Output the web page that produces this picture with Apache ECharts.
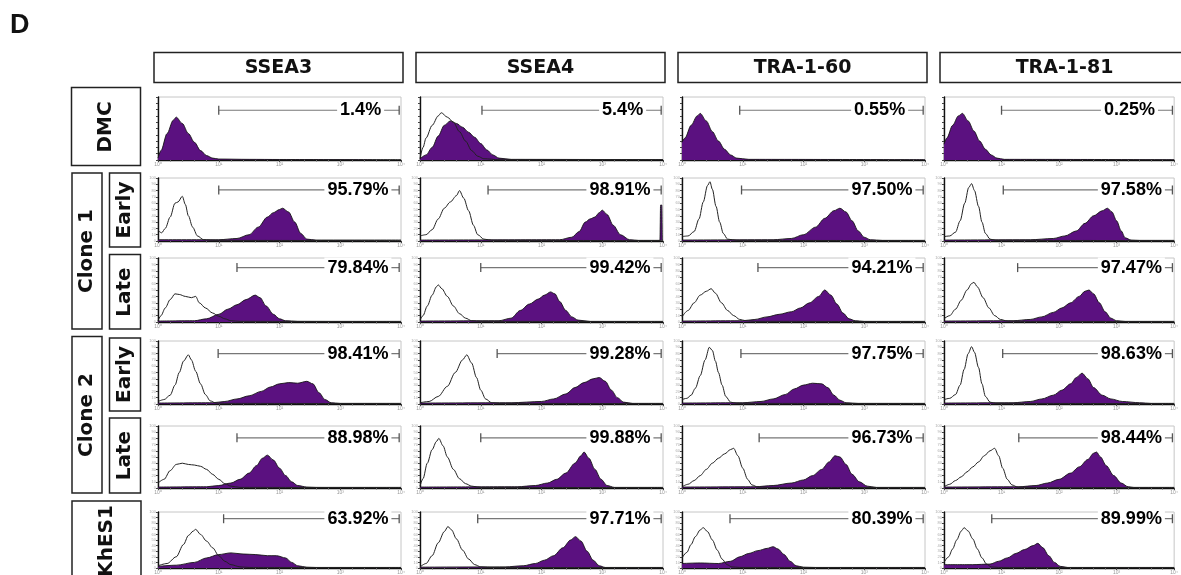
<!DOCTYPE html>
<html>
<head>
<meta charset="utf-8">
<script src="https://cdn.jsdelivr.net/npm/echarts@6/dist/echarts.min.js"></script>
<style>
  html, body { margin: 0; padding: 0; background: #fff; }
  #chart { width: 1181px; height: 575px; }
</style>
</head>
<body>
<div id="chart"></div>
<script>
// columns = markers, rows = samples (DMC, clone1 early/late, clone2 early/late, KhES1)
var markers = ["SSEA3", "SSEA4", "TRA-1-60", "TRA-1-81"];
var decadeTicks = ["10\u2070", "10\u00b9", "10\u00b2", "10\u00b3", "10\u2074"];

// percentage of positive cells
var ssea3Pct = ["1.4%", "95.79%", "79.84%", "98.41%", "88.98%", "63.92%"];
var ssea4Pct = ["5.4%", "98.91%", "99.42%", "99.28%", "99.88%", "97.71%"];
var tra160Pct = ["0.55%", "97.50%", "94.21%", "97.75%", "96.73%", "80.39%"];
var tra181Pct = ["0.25%", "97.58%", "97.47%", "98.63%", "98.44%", "89.99%"];

// gate start (log decades)
var ssea3Gate = [1.0, 1.0, 1.3, 0.99, 1.3, 1.08];
var ssea4Gate = [1.02, 1.12, 1.0, 1.27, 1.0, 0.95];
var tra160Gate = [0.95, 0.98, 1.25, 0.97, 1.27, 0.79];
var tra181Gate = [1.0, 1.03, 1.28, 1.02, 1.3, 0.83];
var gateLevel = [79, 81, 85, 80, 81, 88];

// stained histograms [log decade, % of max height]
var ssea3Fill = [
  [[0,3],[0.05,15],[0.15,42],[0.25,63],[0.3,68],[0.4,58],[0.5,42],[0.6,28],[0.7,15],[0.8,7],[0.9,3],[1.0,1.5],[1.5,1],[2,0.8],[4,0.5]],
  [[0,2],[1.0,2],[1.3,4],[1.5,10],[1.65,22],[1.8,38],[1.9,45],[2.0,50],[2.05,52],[2.15,46],[2.25,30],[2.35,12],[2.45,3],[2.6,1.5],[4,1.5]],
  [[0,1.5],[0.6,2],[0.8,5],[1.0,12],[1.15,20],[1.3,27],[1.45,35],[1.6,42],[1.68,38],[1.78,25],[1.9,12],[2.0,5],[2.1,2],[2.3,1],[4,1]],
  [[0,1.5],[0.9,2],[1.1,4],[1.3,8],[1.5,13],[1.7,20],[1.85,27],[2.0,32],[2.15,34],[2.3,33],[2.45,36],[2.55,32],[2.65,18],[2.75,7],[2.85,2],[3.0,1],[4,1]],
  [[0,1.5],[0.8,2],[1.0,4],[1.2,8],[1.35,14],[1.5,24],[1.62,36],[1.72,48],[1.8,53],[1.9,45],[2.0,32],[2.1,20],[2.2,10],[2.3,4],[2.45,1.5],[2.6,1],[4,1]],
  [[0,3],[0.3,5],[0.6,10],[0.8,18],[1.0,24],[1.2,27],[1.4,25],[1.6,24],[1.8,22],[1.95,22],[2.1,18],[2.2,10],[2.3,4],[2.45,1.5],[2.6,1],[4,1]]
];
var ssea4Fill = [
  [[0,2],[0.1,8],[0.2,20],[0.3,38],[0.4,55],[0.5,62],[0.6,58],[0.7,52],[0.8,44],[0.9,36],[1.0,26],[1.1,16],[1.2,8],[1.3,3],[1.5,1],[4,0.5]],
  [[0,1.5],[2.3,2],[2.5,6],[2.62,15],[2.72,30],[2.8,35],[2.88,38],[2.95,45],[3.0,49],[3.08,42],[3.18,25],[3.3,10],[3.45,2],[3.6,1],[3.95,1],[3.96,57],[3.98,57],[3.99,1],[4,1]],
  [[0,1.5],[1.3,2],[1.5,6],[1.65,18],[1.8,28],[1.95,36],[2.05,42],[2.15,47],[2.22,44],[2.3,32],[2.4,18],[2.5,8],[2.6,3],[2.8,1],[4,1]],
  [[0,1.5],[1.5,2],[2.0,4],[2.2,8],[2.4,16],[2.55,26],[2.7,34],[2.85,40],[2.95,42],[3.05,36],[3.15,22],[3.25,10],[3.35,3],[3.5,1],[4,1]],
  [[0,1.5],[1.6,2],[1.9,4],[2.1,8],[2.25,14],[2.4,24],[2.55,40],[2.65,52],[2.7,58],[2.78,48],[2.88,30],[2.98,14],[3.08,4],[3.2,1],[4,1]],
  [[0,1.5],[1.4,2],[1.7,4],[1.9,8],[2.05,14],[2.2,22],[2.35,36],[2.48,50],[2.56,56],[2.65,48],[2.75,30],[2.85,14],[2.95,4],[3.05,1],[4,1]]
];
var tra160Fill = [
  [[0,28],[0.05,35],[0.15,55],[0.25,70],[0.3,74],[0.4,62],[0.5,45],[0.6,30],[0.7,17],[0.8,8],[0.9,3],[1.1,1],[4,0.5]],
  [[0,1.5],[1.5,2],[1.8,4],[2.0,10],[2.2,22],[2.35,36],[2.5,48],[2.6,52],[2.7,46],[2.8,32],[2.9,16],[3.0,6],[3.1,2],[3.3,1],[4,1]],
  [[0,1.5],[1.0,2],[1.2,4],[1.4,8],[1.6,12],[1.8,16],[1.95,22],[2.1,30],[2.25,40],[2.35,50],[2.45,42],[2.55,28],[2.65,14],[2.75,5],[2.85,2],[3.0,1],[4,1]],
  [[0,1.5],[1.0,2],[1.3,4],[1.5,8],[1.7,15],[1.85,24],[2.0,30],[2.15,33],[2.3,32],[2.4,26],[2.5,14],[2.6,6],[2.7,2],[2.9,1],[4,1]],
  [[0,1.5],[1.2,2],[1.5,4],[1.8,8],[2.0,13],[2.15,20],[2.3,30],[2.42,42],[2.52,52],[2.6,50],[2.7,38],[2.8,22],[2.92,10],[3.05,3],[3.2,1],[4,1]],
  [[0,8],[0.3,9],[0.6,8],[0.8,12],[0.95,20],[1.1,26],[1.25,31],[1.4,35],[1.5,38],[1.58,34],[1.68,24],[1.78,12],[1.88,4],[2.0,1.5],[2.2,1],[4,1]]
];
var tra181Fill = [
  [[0,25],[0.05,35],[0.15,55],[0.25,70],[0.32,74],[0.42,62],[0.52,46],[0.62,30],[0.72,17],[0.82,8],[0.92,3],[1.05,1],[4,0.5]],
  [[0,1.5],[1.5,2],[1.9,4],[2.1,8],[2.3,16],[2.45,28],[2.6,40],[2.75,48],[2.84,52],[2.92,46],[3.0,32],[3.08,16],[3.15,5],[3.25,1.5],[3.4,1],[4,1]],
  [[0,1.5],[1.2,2],[1.5,4],[1.7,8],[1.9,15],[2.05,22],[2.2,30],[2.35,40],[2.45,48],[2.52,50],[2.6,44],[2.7,30],[2.8,16],[2.9,6],[3.0,2],[3.15,1],[4,1]],
  [[0,1.5],[1.2,2],[1.5,4],[1.7,8],[1.9,14],[2.05,22],[2.2,32],[2.3,42],[2.4,49],[2.5,40],[2.6,26],[2.75,14],[2.9,8],[3.1,4],[3.4,2],[3.6,1],[4,1]],
  [[0,1.5],[1.3,2],[1.6,4],[1.8,8],[2.0,14],[2.2,24],[2.35,34],[2.5,46],[2.6,56],[2.65,58],[2.72,50],[2.82,36],[2.95,20],[3.08,8],[3.2,2],[3.3,1],[4,1]],
  [[0,6],[0.5,6],[0.8,7],[0.95,12],[1.1,18],[1.25,26],[1.4,33],[1.55,40],[1.63,44],[1.72,36],[1.82,22],[1.92,10],[2.02,3],[2.15,1],[4,1]]
];

// isotype control outlines (DMC rows mostly coincide with the fill)
var ssea3Ctrl = [
  null,
  [[0,17],[0.06,13],[0.12,20],[0.2,38],[0.28,60],[0.33,62],[0.4,71],[0.45,58],[0.5,40],[0.57,22],[0.65,8],[0.75,2],[0.9,1],[4,0.5]],
  [[0,2],[0.05,10],[0.12,22],[0.2,35],[0.28,44],[0.35,43],[0.45,40],[0.55,38],[0.62,40],[0.68,30],[0.78,22],[0.9,14],[1.0,9],[1.1,5],[1.2,2],[1.35,1],[4,0.5]],
  [[0,4],[0.1,7],[0.2,14],[0.28,30],[0.35,50],[0.42,68],[0.5,78],[0.55,70],[0.62,52],[0.7,32],[0.78,15],[0.86,5],[0.95,1.5],[1.1,1],[4,0.5]],
  [[0,8],[0.1,14],[0.2,28],[0.3,38],[0.4,40],[0.5,38],[0.6,37],[0.7,35],[0.8,30],[0.9,22],[1.0,14],[1.1,7],[1.2,3],[1.35,1],[4,0.5]],
  [[0,4],[0.15,8],[0.3,20],[0.42,42],[0.5,58],[0.58,66],[0.62,69],[0.7,60],[0.8,48],[0.9,36],[1.0,22],[1.1,12],[1.2,6],[1.35,2],[1.5,1],[4,0.5]]
];
var ssea4Ctrl = [
  [[0,2],[0.05,20],[0.1,35],[0.2,55],[0.3,70],[0.35,75],[0.45,68],[0.55,60],[0.65,45],[0.75,30],[0.85,15],[0.95,6],[1.05,2],[1.3,0.5],[4,0.5]],
  [[0,8],[0.1,10],[0.2,18],[0.3,35],[0.4,52],[0.5,62],[0.6,72],[0.65,80],[0.72,68],[0.8,48],[0.88,25],[0.95,10],[1.05,3],[1.2,1],[4,0.5]],
  [[0,3],[0.05,10],[0.12,25],[0.2,42],[0.27,55],[0.3,58],[0.36,52],[0.45,40],[0.55,25],[0.65,13],[0.75,6],[0.85,2],[1.0,1],[4,0.5]],
  [[0,2],[0.15,4],[0.3,12],[0.45,28],[0.58,50],[0.7,70],[0.77,78],[0.85,65],[0.93,42],[1.0,22],[1.08,8],[1.18,2],[1.3,1],[4,0.5]],
  [[0,3],[0.05,15],[0.12,40],[0.2,62],[0.27,75],[0.31,80],[0.38,68],[0.45,50],[0.55,30],[0.65,15],[0.75,7],[0.85,3],[1.0,1],[4,0.5]],
  [[0,2],[0.1,8],[0.2,22],[0.3,45],[0.4,65],[0.46,74],[0.52,68],[0.6,52],[0.7,32],[0.8,16],[0.9,6],[1.0,2],[1.15,1],[4,0.5]]
];
var tra160Ctrl = [
  null,
  [[0,7],[0.1,8],[0.2,15],[0.28,35],[0.35,62],[0.42,88],[0.46,94],[0.5,82],[0.56,55],[0.62,30],[0.68,12],[0.75,3],[0.9,1],[4,0.5]],
  [[0,8],[0.1,18],[0.2,30],[0.3,42],[0.4,48],[0.48,52],[0.55,45],[0.65,30],[0.75,18],[0.85,10],[0.95,4],[1.05,2],[1.2,1],[4,0.5]],
  [[0,7],[0.08,9],[0.15,14],[0.22,25],[0.3,45],[0.38,70],[0.45,90],[0.5,85],[0.55,68],[0.6,50],[0.66,30],[0.72,12],[0.8,3],[0.9,1],[4,0.5]],
  [[0,2],[0.1,6],[0.2,12],[0.3,20],[0.4,30],[0.5,40],[0.6,48],[0.7,55],[0.8,62],[0.85,64],[0.92,52],[1.0,32],[1.08,14],[1.15,5],[1.25,1.5],[1.4,1],[4,0.5]],
  [[0,18],[0.08,28],[0.15,42],[0.22,56],[0.3,68],[0.35,72],[0.42,65],[0.5,50],[0.58,32],[0.66,16],[0.74,6],[0.82,2],[0.95,1],[4,0.5]]
];
var tra181Ctrl = [
  null,
  [[0,7],[0.1,8],[0.2,14],[0.28,32],[0.36,60],[0.43,85],[0.48,91],[0.53,80],[0.6,55],[0.66,30],[0.72,12],[0.8,3],[0.9,1],[4,0.5]],
  [[0,5],[0.1,10],[0.2,20],[0.3,34],[0.4,50],[0.48,60],[0.52,62],[0.58,55],[0.68,38],[0.78,22],[0.88,10],[0.98,4],[1.1,1.5],[1.25,1],[4,0.5]],
  [[0,7],[0.1,9],[0.2,15],[0.28,30],[0.35,55],[0.42,80],[0.48,91],[0.53,82],[0.6,58],[0.66,32],[0.72,12],[0.8,3],[0.9,1],[4,0.5]],
  [[0,2],[0.1,6],[0.2,12],[0.3,18],[0.4,26],[0.5,34],[0.6,42],[0.7,52],[0.8,60],[0.88,64],[0.95,52],[1.02,32],[1.1,14],[1.18,5],[1.28,1.5],[1.4,1],[4,0.5]],
  [[0,10],[0.08,20],[0.15,34],[0.22,50],[0.3,66],[0.35,72],[0.42,66],[0.5,52],[0.58,34],[0.66,18],[0.74,7],[0.82,2],[0.95,1],[4,0.5]]
];

var fills = [ssea3Fill, ssea4Fill, tra160Fill, tra181Fill];
var ctrls = [ssea3Ctrl, ssea4Ctrl, tra160Ctrl, tra181Ctrl];
var pcts = [ssea3Pct, ssea4Pct, tra160Pct, tra181Pct];
var gates = [ssea3Gate, ssea4Gate, tra160Gate, tra181Gate];

// layout
var colX = [158, 420, 682, 944];
var plotW = 243;
var rowY = [97, 178, 258, 341, 426, 512];
var rowH = [63, 63, 64, 63, 62, 59];
var purple = "#5b1180";
var boldFont = "DejaVu Sans";

var chart = echarts.init(document.getElementById("chart"));
var grids = [], xAxes = [], yAxes = [], series = [];

for (var r = 0; r < 6; r++) {
  for (var c = 0; c < 4; c++) {
    var gi = grids.length;
    grids.push({
      left: colX[c], top: rowY[r], width: plotW, height: rowH[r],
      show: true, borderColor: "#c6c6c6", borderWidth: 1, backgroundColor: "#fff"
    });
    xAxes.push({
      gridIndex: gi, type: "value", min: 0, max: 4, interval: 1,
      axisLine: { show: true, onZero: false, lineStyle: { color: "#111", width: 1.4 } },
      axisTick: { show: true, length: 2, lineStyle: { color: "#444", width: 1 } },
      minorTick: { show: true, splitNumber: 5, length: 1.5, lineStyle: { color: "#666" } },
      splitLine: { show: false },
      axisLabel: {
        fontSize: 5, color: "#999", margin: 2,
        formatter: function (v) { return decadeTicks[Math.round(v)]; }
      }
    });
    yAxes.push({
      gridIndex: gi, type: "value", min: 0, max: 100, interval: 10,
      axisLine: { show: true, lineStyle: { color: "#111", width: 1.4 } },
      axisTick: { show: true, length: 2, lineStyle: { color: "#444" } },
      splitLine: { show: false },
      axisLabel: { show: r > 0, fontSize: 4, color: "#aaa", margin: 2 }
    });

    series.push({
      type: "line", xAxisIndex: gi, yAxisIndex: gi, data: fills[c][r],
      smooth: 0.3, smoothMonotone: "x", showSymbol: false, z: 2,
      lineStyle: { color: "#151515", width: 0.9 },
      areaStyle: { color: purple, opacity: 1 }
    });
    if (ctrls[c][r]) {
      series.push({
        type: "line", xAxisIndex: gi, yAxisIndex: gi, data: ctrls[c][r],
        smooth: 0.3, smoothMonotone: "x", showSymbol: false, z: 3,
        lineStyle: { color: "#222", width: 1 }
      });
    }
    var gy = gateLevel[r];
    series.push({
      type: "line", xAxisIndex: gi, yAxisIndex: gi,
      data: [[gates[c][r], gy], [3.97, gy]],
      symbol: "rect", symbolSize: [1.3, 9], showSymbol: true, z: 4,
      itemStyle: { color: "#555" },
      lineStyle: { color: "#777", width: 1.2 }
    });
    series.push({
      type: "scatter", xAxisIndex: gi, yAxisIndex: gi,
      data: [[r === 0 ? 3.78 : 3.9, gy]],
      symbolSize: 1, itemStyle: { color: "rgba(0,0,0,0)", opacity: 1 }, z: 5,
      label: {
        show: true, position: "left", distance: 3, opacity: 1,
        formatter: pcts[c][r],
        fontFamily: "Liberation Sans", fontSize: 18, fontWeight: "bold", color: "#000",
        backgroundColor: "#fff", padding: [1, 3]
      }
    });
  }
}

// header and row-label boxes
var graphic = [{
  type: "text", x: 10, y: 12,
  style: { text: "D", fontFamily: "Liberation Sans", fontSize: 27, fontWeight: "bold", fill: "#111" }
}];
function box(x, y, w, h) {
  graphic.push({ type: "rect", shape: { x: x, y: y, width: w, height: h },
    style: { fill: "#fff", stroke: "#222", lineWidth: 1.5 } });
}
function label(text, x, y, rotate) {
  graphic.push({ type: "text", x: x, y: y, rotation: rotate ? Math.PI / 2 : 0,
    style: { text: text, fontFamily: boldFont, fontSize: rotate ? 20 : 19, fontWeight: "bold", fill: "#111",
      align: "center", verticalAlign: "middle" } });
}
for (var i = 0; i < 4; i++) {
  var hx = colX[i] - 4;
  box(hx, 52.5, 249, 30);
  label(markers[i], hx + 124.5, 68, false);
}
box(71.5, 87.5, 69, 78); label("DMC", 106, 127, true);
box(72, 173, 30, 156); label("Clone 1", 87, 251, true);
box(109.5, 173, 31, 74); label("Early", 125, 210, true);
box(109.5, 254.5, 31, 74.5); label("Late", 125, 292, true);
box(72, 336.5, 30, 156.5); label("Clone 2", 87, 415, true);
box(109.5, 338, 31, 73); label("Early", 125, 374.5, true);
box(109.5, 418, 31, 75); label("Late", 125, 455.5, true);
box(72, 501, 69, 80); label("KhES1", 106.5, 541, true);

var option = {
  animation: false,
  backgroundColor: "#fff",
  grid: grids,
  xAxis: xAxes,
  yAxis: yAxes,
  series: series,
  graphic: graphic
};
option && chart.setOption(option);
</script>
</body>
</html>
